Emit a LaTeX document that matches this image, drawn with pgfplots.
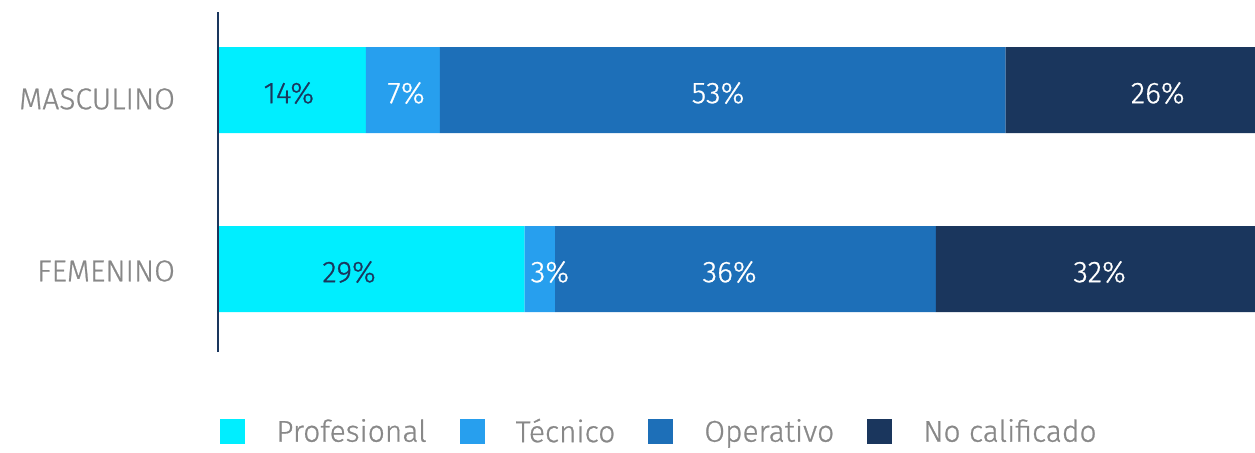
\documentclass[border=0pt]{standalone}
\usepackage{fontspec}
\setmainfont{Fira Sans Light}[RawFeature={embolden=0.8}]
\usepackage{pgfplots}
\pgfplotsset{compat=1.18}
\definecolor{cProf}{HTML}{00EEFF}
\definecolor{cTec}{HTML}{279FEE}
\definecolor{cOpe}{HTML}{1D6FB8}
\definecolor{cNoc}{HTML}{1A365D}
\definecolor{cGris}{HTML}{888888}
\begin{document}
\begin{tikzpicture}
\path[use as bounding box] (0,0) rectangle (627.5pt,226pt);
\begin{axis}[
  at={(109pt,50pt)}, anchor=south west,
  scale only axis, width=518.5pt, height=170pt,
  xmin=0, xmax=98.1, ymin=-0.4637, ymax=1.4358,
  bar width=43pt, axis on top,
  axis x line=none, axis y line=left,
  y axis line style={-, draw=cNoc, line width=1pt},
  ytick={-0.011,0.95}, yticklabels={FEMENINO,MASCULINO},
  major tick length=0pt,
  yticklabel style={font=\fontsize{15}{18}\selectfont, text=cGris, xshift=-18pt},
  legend columns=4,
  legend style={at={(0.0019,-0.235)}, anchor=west, draw=none, fill=none,
    inner sep=0pt, font=\fontsize{15}{18}\selectfont, text=cGris,
    /tikz/every odd column/.append style={column sep=13.5pt},
    /tikz/every even column/.append style={column sep=14.5pt}},
]
\addplot[xbar, stack plots=x, bar shift=0pt, fill=cProf, draw=none,
  legend image code/.code={\fill[cProf] (0pt,-6.25pt) rectangle (12.5pt,6.25pt);}]
  coordinates {(14,1) (29,0)};
\addplot[xbar, stack plots=x, bar shift=0pt, fill=cTec, draw=none,
  legend image code/.code={\fill[cTec] (0pt,-6.25pt) rectangle (12.5pt,6.25pt);}]
  coordinates {(7,1) (2.9,0)};
\addplot[xbar, stack plots=x, bar shift=0pt, fill=cOpe, draw=none,
  legend image code/.code={\fill[cOpe] (0pt,-6.25pt) rectangle (12.5pt,6.25pt);}]
  coordinates {(53.5,1) (36,0)};
\addplot[xbar, stack plots=x, bar shift=0pt, fill=cNoc, draw=none,
  legend image code/.code={\fill[cNoc] (0pt,-6.25pt) rectangle (12.5pt,6.25pt);}]
  coordinates {(25.5,1) (32.1,0)};
\legend{Profesional, Técnico, Operativo, No calificado}
% etiquetas de valor
\addplot[forget plot, draw=none, mark=none, nodes near coords,
  point meta=explicit symbolic, nodes near coords align=center,
  every node near coord/.append style={text=cNoc, yshift=-1.5pt, font=\fontsize{15}{18}\selectfont}]
  coordinates {(6.7,1) [14\%] (12.4,0) [29\%]};
\addplot[forget plot, draw=none, mark=none, nodes near coords,
  point meta=explicit symbolic, nodes near coords align=center,
  every node near coord/.append style={text=white, yshift=-1.5pt, font=\fontsize{15}{18}\selectfont}]
  coordinates {(17.8,1) [7\%] (47.3,1) [53\%] (88.9,1) [26\%]
               (31.4,0) [3\%] (48.4,0) [36\%] (83.4,0) [32\%]};
\end{axis}
\end{tikzpicture}
\end{document}
